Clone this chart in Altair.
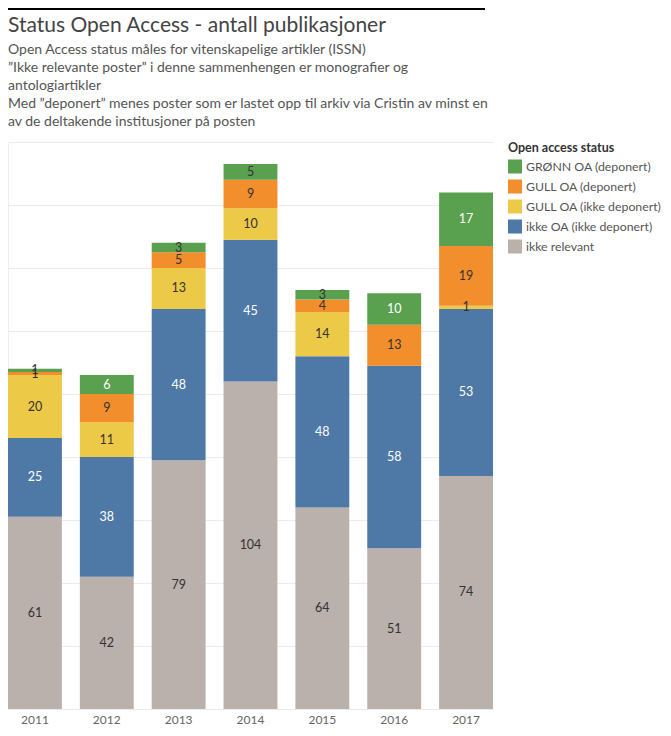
import altair as alt
import pandas as pd

years = ["2011", "2012", "2013", "2014", "2015", "2016", "2017"]
categories = ["GRØNN OA (deponert)", "GULL OA (deponert)", "GULL OA (ikke deponert)",
              "ikke OA (ikke deponert)", "ikke relevant"]
colors = ["#59A14F", "#F28E2B", "#EDC948", "#4E79A7", "#BAB0AC"]

gronn = [1, 6, 3, 5, 3, 10, 17]
gull_dep = [1, 9, 5, 9, 4, 13, 19]
gull_ikke = [20, 11, 13, 10, 14, 0, 1]
ikke_oa = [25, 38, 48, 45, 48, 58, 53]
ikke_rel = [61, 42, 79, 104, 64, 51, 74]
series = [gronn, gull_dep, gull_ikke, ikke_oa, ikke_rel]

title_text = "Status Open Access - antall publikasjoner"
subtitle_lines = [
    "Open Access status måles for vitenskapelige artikler (ISSN)",
    "”Ikke relevante poster” i denne sammenhengen er monografier og",
    "antologiartikler",
    "Med ”deponert” menes poster som er lastet opp til arkiv via Cristin av minst en",
    "av de deltakende institusjoner på posten",
]

FONT = "Lato"
TOP = 134

rows = []
for yi, yr in enumerate(years):
    base = 0
    for ci in range(len(categories) - 1, -1, -1):
        v = series[ci][yi]
        light = (ci == 3) or (ci == 0 and v >= 6)
        rows.append(dict(year=yr, status=categories[ci], value=v,
                         y0=base, y1=base + v, mid=base + v / 2,
                         lc="#ffffff" if light else "#333333"))
        base += v
df = pd.DataFrame(rows)

xenc = alt.X("year:N", sort=years,
             scale=alt.Scale(paddingInner=0.25, paddingOuter=0),
             axis=alt.Axis(title=None, labelAngle=0, ticks=False, domain=False,
                           labelFontSize=12, labelColor="#666666", labelPadding=5,
                           labelFont=FONT, grid=False))

bars = alt.Chart(df).mark_bar().encode(
    x=xenc,
    y=alt.Y("y0:Q", scale=alt.Scale(domain=[0, 180], nice=False),
            axis=alt.Axis(title=None, labels=False, ticks=False, domain=True,
                          domainColor="#eeeeee", grid=True, gridColor="#ebebeb",
                          values=list(range(0, 181, 20)))),
    y2="y1:Q",
    color=alt.Color("status:N", scale=alt.Scale(domain=categories, range=colors),
                    legend=alt.Legend(title="Open access status", orient="right",
                                      offset=15, padding=0,
                                      titleFont=FONT, titleFontSize=12.5,
                                      titleFontWeight="bold", titleColor="#333333",
                                      titlePadding=5,
                                      labelFont=FONT, labelFontSize=12.3,
                                      labelColor="#555555", labelOffset=4,
                                      symbolType="square", symbolSize=196,
                                      symbolStrokeWidth=0, symbolOpacity=1,
                                      rowPadding=6)),
)

labels = alt.Chart(df).transform_filter("datum.value > 0").mark_text(
    font=FONT, fontSize=12.5
).encode(
    x=alt.X("year:N", sort=years),
    y=alt.Y("mid:Q"),
    text=alt.Text("value:Q"),
    color=alt.Color("lc:N", scale=None),
)

topline = alt.Chart(pd.DataFrame({"a": [0]})).mark_rule(
    color="#000000", strokeWidth=2
).encode(x=alt.value(0), x2=alt.value(477), y=alt.value(-(TOP - 1)))

chart = alt.layer(topline, bars, labels).properties(
    width=485,
    height=567,
    title=alt.Title(text=title_text, subtitle=subtitle_lines, anchor="start",
                    frame="group", font=FONT, fontSize=21, fontWeight="normal",
                    color="#444444", subtitleFont=FONT, subtitleFontSize=14,
                    subtitleColor="#555555", subtitleLineHeight=18,
                    subtitlePadding=7, offset=-121),
    padding={"left": 0, "top": TOP, "right": 170, "bottom": 18},
    autosize=alt.AutoSizeParams(type="none"),
).configure_view(stroke=None)

chart.save("out.html", embed_options={"renderer": "svg", "actions": False})
